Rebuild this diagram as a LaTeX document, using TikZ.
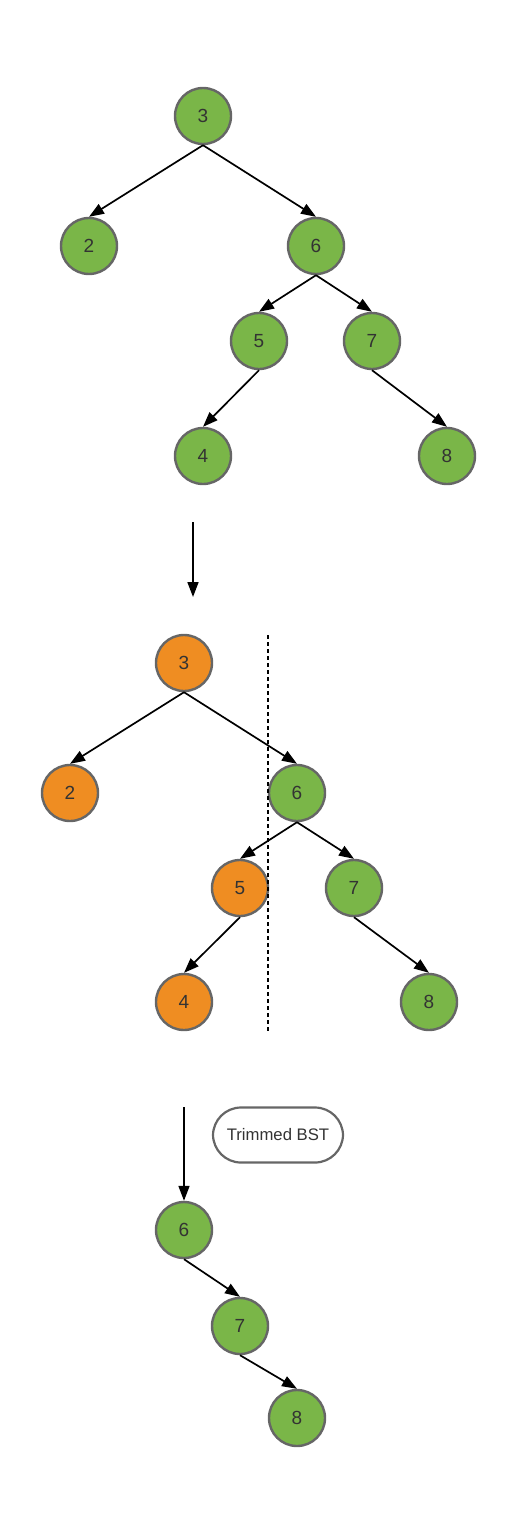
\documentclass[tikz,border=0pt]{standalone}
\usepackage{fontspec}
\setmainfont{Liberation Sans}
\usetikzlibrary{arrows.meta}
\definecolor{gnode}{HTML}{7AB648}
\definecolor{onode}{HTML}{EF8D22}
\definecolor{bord}{HTML}{666666}
\tikzset{
  tn/.style={circle,draw=bord,line width=2.4pt,minimum size=56pt,inner sep=0pt,font=\fontsize{19}{19}\selectfont,text=black!80},
  gn/.style={tn,fill=gnode},
  on/.style={tn,fill=onode},
  edge/.style={line width=1.7pt,-{Triangle[length=15pt,width=11pt]}},
  lbl/.style={draw=bord,line width=2.2pt,rounded corners=28pt,minimum width=130pt,minimum height=55pt,font=\fontsize{16.7}{16.7}\selectfont,text=black!80}
}
\begin{document}
\begin{tikzpicture}[x=1pt,y=-1pt]
\useasboundingbox (0,0) rectangle (519,1536);
% tree 1
\node[gn] (a3) at (203,116) {3};
\node[gn] (a2) at (89,246) {2};
\node[gn] (a6) at (316,246) {6};
\node[gn] (a5) at (259,341) {5};
\node[gn] (a7) at (372,341) {7};
\node[gn] (a4) at (203,456) {4};
\node[gn] (a8) at (447,456) {8};
\draw[edge] (a3.south) -- (a2.north);
\draw[edge] (a3.south) -- (a6.north);
\draw[edge] (a6.south) -- (a5.north);
\draw[edge] (a6.south) -- (a7.north);
\draw[edge] (a5.south) -- (a4.north);
\draw[edge] (a7.south) -- (a8.north);
% arrow 1
\coordinate (p1) at (193,522);
\coordinate (p2) at (193,597);
\draw[edge] (p1) -- (p2);
% tree 2
\node[on] (b3) at (184,663) {3};
\node[on] (b2) at (70,793) {2};
\node[gn] (b6) at (297,793) {6};
\node[on] (b5) at (240,888) {5};
\node[gn] (b7) at (354,888) {7};
\node[on] (b4) at (184,1002) {4};
\node[gn] (b8) at (429,1002) {8};
\draw[edge] (b3.south) -- (b2.north);
\draw[edge] (b3.south) -- (b6.north);
\draw[edge] (b6.south) -- (b5.north);
\draw[edge] (b6.south) -- (b7.north);
\draw[edge] (b5.south) -- (b4.north);
\draw[edge] (b7.south) -- (b8.north);
\coordinate (d1) at (268,635);
\coordinate (d2) at (268,1032);
\draw[line width=1.6pt,dash pattern=on 4pt off 3pt] (d1) -- (d2);
% arrow 2
\coordinate (q1) at (184,1107);
\node[gn] (c6) at (184,1230) {6};
\node[gn] (c7) at (240,1326) {7};
\node[gn] (c8) at (297,1418) {8};
\draw[edge] (q1) -- (c6.north);
\node[lbl] (lab) at (278,1135) {Trimmed BST};
\draw[edge] (c6.south) -- (c7.north);
\draw[edge] (c7.south) -- (c8.north);
\end{tikzpicture}
\end{document}
